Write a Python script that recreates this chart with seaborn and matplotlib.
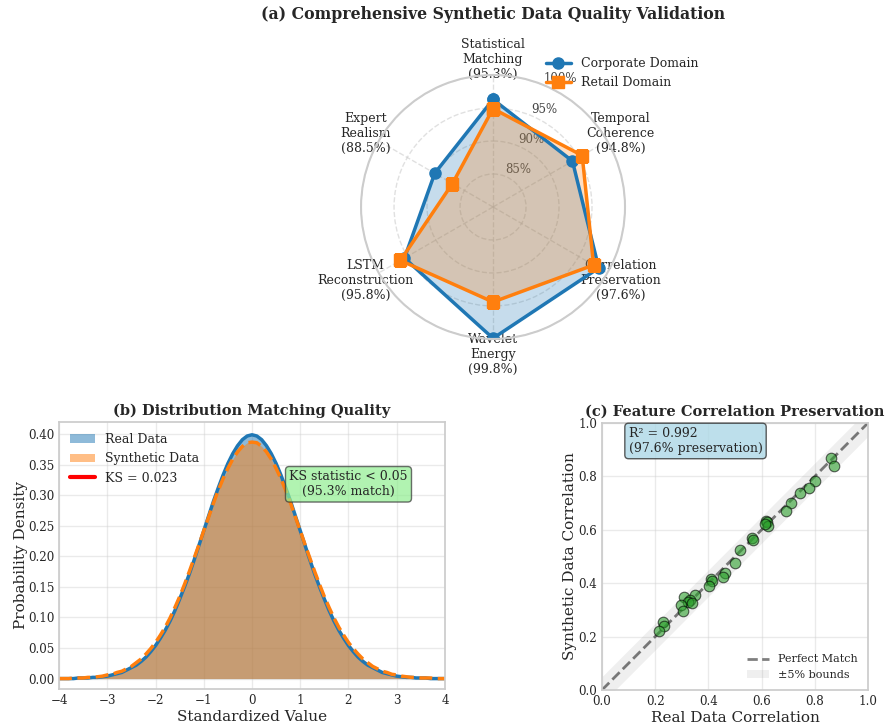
import numpy as np
import pandas as pd
import matplotlib
matplotlib.use("Agg")
import matplotlib.pyplot as plt
import seaborn as sns

# ---------------- data ----------------
radar_labels = ["Statistical\nMatching\n(95.3%)", "Temporal\nCoherence\n(94.8%)",
                "Correlation\nPreservation\n(97.6%)", "Wavelet\nEnergy\n(99.8%)",
                "LSTM\nReconstruction\n(95.8%)", "Expert\nRealism\n(88.5%)"]
corporate_vals = [96.3, 93.9, 98.5, 99.9, 95.5, 90.2]
retail_vals = [94.9, 95.6, 97.6, 94.4, 96.2, 87.1]
radar_ticks = [85, 90, 95, 100]
radar_ticklabels = ["85%", "90%", "95%", "100%"]

dens_x = [-4.0, -3.9, -3.8, -3.7, -3.6, -3.5, -3.4, -3.3, -3.2, -3.1,
          -3.0, -2.9, -2.8, -2.7, -2.6, -2.5, -2.4, -2.3, -2.2, -2.1,
          -2.0, -1.9, -1.8, -1.7, -1.6, -1.5, -1.4, -1.3, -1.2, -1.1,
          -1.0, -0.9, -0.8, -0.7, -0.6, -0.5, -0.4, -0.3, -0.2, -0.1,
          0.0, 0.1, 0.2, 0.3, 0.4, 0.5, 0.6, 0.7, 0.8, 0.9,
          1.0, 1.1, 1.2, 1.3, 1.4, 1.5, 1.6, 1.7, 1.8, 1.9,
          2.0, 2.1, 2.2, 2.3, 2.4, 2.5, 2.6, 2.7, 2.8, 2.9,
          3.0, 3.1, 3.2, 3.3, 3.4, 3.5, 3.6, 3.7, 3.8, 3.9, 4.0]
real_density = [0.000, 0.000, 0.000, 0.000, 0.001, 0.001, 0.001, 0.002, 0.002, 0.003,
                0.004, 0.006, 0.008, 0.010, 0.014, 0.018, 0.022, 0.028, 0.035, 0.044,
                0.054, 0.066, 0.079, 0.094, 0.111, 0.130, 0.150, 0.171, 0.194, 0.218,
                0.242, 0.266, 0.290, 0.312, 0.333, 0.352, 0.368, 0.381, 0.391, 0.397,
                0.399, 0.397, 0.391, 0.381, 0.368, 0.352, 0.333, 0.312, 0.290, 0.266,
                0.242, 0.218, 0.194, 0.171, 0.150, 0.130, 0.111, 0.094, 0.079, 0.066,
                0.054, 0.044, 0.035, 0.028, 0.022, 0.018, 0.014, 0.010, 0.008, 0.006,
                0.004, 0.003, 0.002, 0.002, 0.001, 0.001, 0.001, 0.000, 0.000, 0.000, 0.000]
synth_density = [0.000, 0.000, 0.000, 0.001, 0.001, 0.001, 0.002, 0.002, 0.003, 0.004,
                 0.006, 0.007, 0.010, 0.012, 0.016, 0.020, 0.026, 0.032, 0.040, 0.049,
                 0.059, 0.071, 0.084, 0.099, 0.116, 0.134, 0.154, 0.175, 0.197, 0.219,
                 0.242, 0.264, 0.287, 0.308, 0.327, 0.344, 0.359, 0.371, 0.380, 0.386,
                 0.387, 0.386, 0.380, 0.371, 0.359, 0.344, 0.327, 0.308, 0.287, 0.264,
                 0.242, 0.219, 0.197, 0.175, 0.154, 0.134, 0.116, 0.099, 0.084, 0.071,
                 0.059, 0.049, 0.040, 0.032, 0.026, 0.020, 0.016, 0.012, 0.010, 0.007,
                 0.006, 0.004, 0.003, 0.002, 0.002, 0.001, 0.001, 0.001, 0.000, 0.000, 0.000]
ks_x = [0.5, 0.5]
ks_y = [0.344, 0.352]
ks_label = "KS = 0.023"

real_corr = [0.861, 0.872, 0.802, 0.778, 0.745, 0.710, 0.692, 0.615, 0.620, 0.623, 0.612,
             0.563, 0.567, 0.518, 0.501, 0.463, 0.456, 0.408, 0.412, 0.403, 0.350, 0.307,
             0.331, 0.324, 0.337, 0.296, 0.306, 0.229, 0.235, 0.213]
synth_corr = [0.870, 0.837, 0.782, 0.757, 0.739, 0.701, 0.671, 0.634, 0.630, 0.615, 0.622,
              0.571, 0.561, 0.524, 0.474, 0.440, 0.424, 0.414, 0.407, 0.391, 0.355, 0.349,
              0.338, 0.330, 0.325, 0.320, 0.297, 0.254, 0.241, 0.222]
diag = [0.0, 1.0]
bound = 0.05

# ---------------- style ----------------
sns.set_theme(style="whitegrid")
plt.rcParams["font.family"] = ["DejaVu Serif"]
plt.rcParams["legend.frameon"] = False
plt.rcParams["font.size"] = 10
plt.rcParams["axes.edgecolor"] = "#cccccc"

blue = "#1f77b4"
orange = "#ff7f0e"

fig = plt.figure(figsize=(8.93, 7.26), dpi=100)

# ---------------- (a) radar ----------------
axr = fig.add_axes([0.4043, 0.5331, 0.2956, 0.3636], projection="polar")
n = len(radar_labels)
angles = [i * 2 * np.pi / n for i in range(n)]
ang_c = angles + angles[:1]
corp_c = corporate_vals + corporate_vals[:1]
ret_c = retail_vals + retail_vals[:1]
axr.set_theta_offset(np.pi / 2)
axr.set_theta_direction(-1)
axr.plot(ang_c, corp_c, "o-", color=blue, lw=2.5, ms=8, label="Corporate Domain")
axr.fill(ang_c, corp_c, color=blue, alpha=0.25)
axr.plot(ang_c, ret_c, "s-", color=orange, lw=2.5, ms=8, label="Retail Domain")
axr.fill(ang_c, ret_c, color=orange, alpha=0.25)
axr.set_ylim(80, 100)
axr.set_yticks(radar_ticks)
axr.set_yticklabels(radar_ticklabels, fontsize=8.5, color="#444444")
axr.set_xticks(angles)
axr.set_xticklabels(radar_labels, fontsize=9)
axr.tick_params(axis="x", length=0, pad=4)
axr.grid(True, linestyle="--", alpha=0.6)
axr.spines["polar"].set_color("#cccccc")
axr.spines["polar"].set_linewidth(1.5)
axr.set_title("(a) Comprehensive Synthetic Data Quality Validation",
              fontsize=11.3, fontweight="bold", pad=14)
axr.legend(loc="upper right", bbox_to_anchor=(1.32, 1.11), fontsize=9)

# ---------------- (b) distribution ----------------
axb = fig.add_axes([0.0661, 0.0510, 0.4322, 0.3678])
axb.grid(True, alpha=0.4)
axb.fill_between(dens_x, real_density, color=blue, alpha=0.5, label="Real Data", lw=0)
axb.fill_between(dens_x, synth_density, color=orange, alpha=0.5, label="Synthetic Data", lw=0)
sns.lineplot(x=dens_x, y=real_density, color=blue, lw=2.5, ax=axb)
sns.lineplot(x=dens_x, y=synth_density, color=orange, lw=2.5, linestyle="--", ax=axb)
sns.lineplot(x=ks_x, y=ks_y, color="red", lw=3, ax=axb, label=ks_label)
axb.text(2.0, 0.318, "KS statistic < 0.05\n(95.3% match)", ha="center", va="center",
         fontsize=9, bbox=dict(boxstyle="round,pad=0.3", facecolor="lightgreen",
                               edgecolor="#333333", alpha=0.7))
axb.set_xlim(-4, 4)
axb.set_ylim(-0.017, 0.42)
axb.set_yticks(np.arange(0, 0.41, 0.05))
axb.set_yticklabels([f"{v:.2f}" for v in np.arange(0, 0.41, 0.05)])
axb.set_xticks(range(-4, 5))
axb.set_xticklabels(["\u22124", "\u22123", "\u22122", "\u22121", "0", "1", "2", "3", "4"])
axb.tick_params(labelsize=8.6, length=0, pad=3.5)
axb.set_xlabel("Standardized Value", fontsize=11, labelpad=2)
axb.set_ylabel("Probability Density", fontsize=11, labelpad=0)
axb.set_title("(b) Distribution Matching Quality", fontsize=10.5, fontweight="bold", pad=5)
axb.legend(loc="upper left", fontsize=9)

# ---------------- (c) correlation ----------------
axc = fig.add_axes([0.6741, 0.0496, 0.2979, 0.3678])
axc.grid(True, alpha=0.4)
diag_lo = [d - bound for d in diag]
diag_hi = [d + bound for d in diag]
axc.fill_between(diag, diag_lo, diag_hi, color="gray", alpha=0.12, lw=0, label="\u00b15% bounds")
sns.lineplot(x=diag, y=diag, color="black", alpha=0.5, lw=2, linestyle="--",
             ax=axc, label="Perfect Match")
sns.scatterplot(x=real_corr, y=synth_corr, color="#2ca02c", alpha=0.6, s=58,
                edgecolor="black", linewidth=0.8, ax=axc, zorder=3)
axc.set_xlim(0, 1)
axc.set_ylim(0, 1)
axc.set_xticks(np.arange(0, 1.01, 0.2))
axc.set_yticks(np.arange(0, 1.01, 0.2))
axc.tick_params(labelsize=8.6, length=0, pad=3.5)
axc.set_xlabel("Real Data Correlation", fontsize=11, labelpad=2)
axc.set_ylabel("Synthetic Data Correlation", fontsize=11, labelpad=1)
axc.set_title("(c) Feature Correlation Preservation", fontsize=10.5, fontweight="bold", pad=5)
axc.text(0.1, 0.985, "R\u00b2 = 0.992\n(97.6% preservation)", transform=axc.transAxes,
         ha="left", va="top", fontsize=9,
         bbox=dict(boxstyle="round,pad=0.3", facecolor="lightblue", edgecolor="#333333",
                   alpha=0.8))
h, l = axc.get_legend_handles_labels()
order = [l.index("Perfect Match"), l.index("\u00b15% bounds")]
axc.legend([h[i] for i in order], [l[i] for i in order], loc="lower right", fontsize=8)

fig.savefig("out.png", dpi=100)
